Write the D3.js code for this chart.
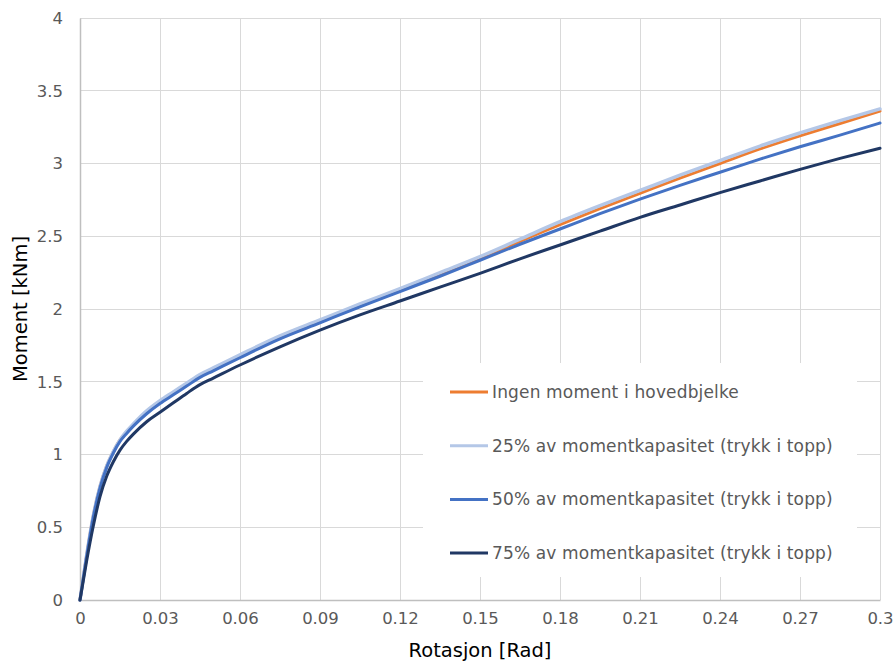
<!DOCTYPE html>
<html>
<head>
<meta charset="utf-8">
<script src="https://cdn.jsdelivr.net/npm/d3@7/dist/d3.min.js"></script>
<style>
  html, body { margin: 0; padding: 0; background: #fff; }
  svg { display: block; font-family: "DejaVu Sans", Verdana, sans-serif; }
</style>
</head>
<body>
<svg id="chart" width="896" height="661"></svg>
<script>
// Rotation (rad) at which each moment value was recorded
const rotation = [0, 0.0025, 0.005, 0.0075, 0.01, 0.0125, 0.015, 0.0175, 0.02, 0.025, 0.03,
  0.035, 0.04, 0.045, 0.05, 0.06, 0.075, 0.09, 0.105, 0.12, 0.135, 0.15, 0.165, 0.18,
  0.195, 0.21, 0.225, 0.24, 0.255, 0.27, 0.285, 0.3];

// Moment (kNm) for each load case
const ingenMoment = [0, 0.31, 0.58, 0.78, 0.92, 1.02, 1.10, 1.155, 1.205, 1.295, 1.365,
  1.425, 1.485, 1.545, 1.59, 1.68, 1.805, 1.915, 2.025, 2.13, 2.24, 2.35, 2.465, 2.58,
  2.69, 2.795, 2.90, 3.00, 3.10, 3.19, 3.275, 3.36];
const kap25 = [0, 0.31, 0.58, 0.78, 0.92, 1.02, 1.10, 1.16, 1.21, 1.30, 1.37,
  1.43, 1.49, 1.55, 1.595, 1.685, 1.815, 1.925, 2.035, 2.14, 2.25, 2.36, 2.48, 2.60,
  2.71, 2.815, 2.92, 3.02, 3.12, 3.21, 3.295, 3.375];
const kap50 = [0, 0.30, 0.57, 0.77, 0.91, 1.01, 1.09, 1.145, 1.195, 1.28, 1.35,
  1.41, 1.47, 1.53, 1.575, 1.665, 1.795, 1.905, 2.015, 2.12, 2.225, 2.335, 2.445, 2.55,
  2.655, 2.755, 2.85, 2.94, 3.03, 3.115, 3.195, 3.278];
const kap75 = [0, 0.27, 0.51, 0.71, 0.85, 0.95, 1.03, 1.09, 1.14, 1.225, 1.29,
  1.355, 1.42, 1.48, 1.525, 1.615, 1.74, 1.855, 1.96, 2.055, 2.15, 2.245, 2.345, 2.44,
  2.535, 2.63, 2.715, 2.80, 2.88, 2.96, 3.035, 3.105];

const seriesNames = [
  "Ingen moment i hovedbjelke",
  "25% av momentkapasitet (trykk i topp)",
  "50% av momentkapasitet (trykk i topp)",
  "75% av momentkapasitet (trykk i topp)"
];
const seriesValues = [ingenMoment, kap25, kap50, kap75];
const seriesColors = ["#ED7D31", "#B4C7E7", "#4472C4", "#203864"];

const xTicks = [0, 0.03, 0.06, 0.09, 0.12, 0.15, 0.18, 0.21, 0.24, 0.27, 0.3];
const yTicks = [0, 0.5, 1, 1.5, 2, 2.5, 3, 3.5, 4];

const svg = d3.select("#chart");
const margin = { left: 80, right: 16, top: 18, bottom: 61 };
const W = 896, H = 661;
const x = d3.scaleLinear().domain([0, 0.3]).range([margin.left, W - margin.right]);
const y = d3.scaleLinear().domain([0, 4]).range([H - margin.bottom, margin.top]);
const textColor = "#595959";

// Gridlines
const grid = svg.append("g");
grid.selectAll("line.v").data(xTicks.slice(1)).join("line")
  .attr("x1", d => x(d)).attr("x2", d => x(d))
  .attr("y1", y(0)).attr("y2", y(4))
  .attr("stroke", "#d9d9d9").attr("stroke-width", 1).attr("shape-rendering", "crispEdges");
grid.selectAll("line.h").data(yTicks.slice(1)).join("line")
  .attr("x1", x(0)).attr("x2", x(0.3))
  .attr("y1", d => y(d)).attr("y2", d => y(d))
  .attr("stroke", "#d9d9d9").attr("stroke-width", 1).attr("shape-rendering", "crispEdges");

// Axes
const xAxis = svg.append("g").attr("transform", `translate(0,${y(0)})`)
  .call(d3.axisBottom(x).tickValues(xTicks).tickSize(0).tickPadding(12)
    .tickFormat(d => d3.format("~g")(d)));
const yAxis = svg.append("g").attr("transform", `translate(${x(0)},0)`)
  .call(d3.axisLeft(y).tickValues(yTicks).tickSize(0).tickPadding(17)
    .tickFormat(d => d3.format("~g")(d)));
[xAxis, yAxis].forEach(g => {
  g.select(".domain").attr("stroke", "#bfbfbf").attr("stroke-width", 1.5);
  g.selectAll("text").attr("fill", textColor)
    .style("font-family", '"DejaVu Sans", Verdana, sans-serif').style("font-size", "16.5px");
});

// Lines
const line = d3.line()
  .x((d, i) => x(rotation[i]))
  .y(d => y(d))
  .curve(d3.curveMonotoneX);
svg.append("g").selectAll("path").data(seriesValues).join("path")
  .attr("d", d => line(d))
  .attr("fill", "none")
  .attr("stroke", (d, i) => seriesColors[i])
  .attr("stroke-width", (d, i) => i === 1 ? 3.5 : 3)
  .attr("stroke-linejoin", "round")
  .attr("stroke-linecap", "round");

// Legend
const legend = svg.append("g");
legend.append("rect")
  .attr("x", 423).attr("y", 363).attr("width", 434).attr("height", 214)
  .attr("fill", "#fff");
const rows = legend.selectAll("g.row").data(seriesNames).join("g")
  .attr("transform", (d, i) => `translate(450,${392 + i * 53.7})`);
rows.append("line")
  .attr("x1", 0).attr("x2", 38).attr("y1", 0).attr("y2", 0)
  .attr("stroke", (d, i) => seriesColors[i]).attr("stroke-width", 3);
rows.append("text")
  .attr("x", 42).attr("y", 0).attr("dy", "0.35em")
  .attr("fill", textColor).style("font-size", "17px").style("letter-spacing", "0.15px")
  .text(d => d);

// Axis titles
svg.append("text")
  .attr("x", x(0.15)).attr("y", 657)
  .attr("text-anchor", "middle").attr("fill", "#000")
  .style("font-size", "19.5px")
  .text("Rotasjon [Rad]");
svg.append("text")
  .attr("transform", `translate(27,${(y(0) + y(4)) / 2}) rotate(-90)`)
  .attr("text-anchor", "middle").attr("fill", "#000")
  .style("font-size", "19.5px")
  .text("Moment [kNm]");
</script>
</body>
</html>
